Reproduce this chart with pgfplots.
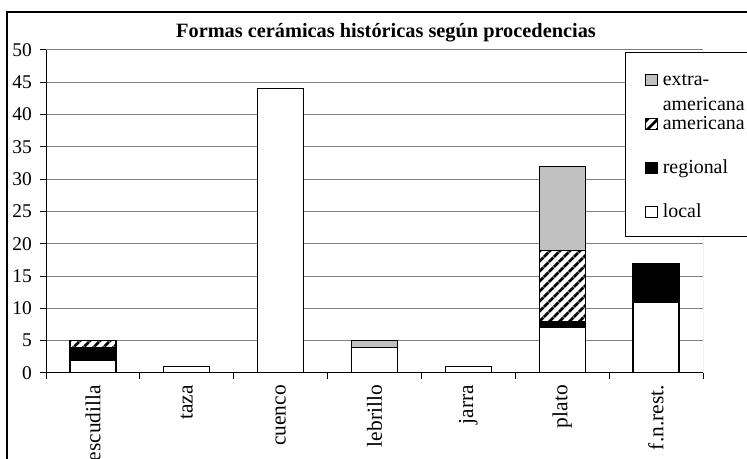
\documentclass[border=0pt]{standalone}
\usepackage{pgfplots}
\pgfplotsset{compat=1.18}
\usepackage{pgfplotstable}
\usepackage{fontspec}
\setmainfont{Liberation Serif}
\usetikzlibrary{patterns.meta}

\definecolor{gridgray}{RGB}{128,128,128}
\definecolor{extragray}{RGB}{192,192,192}

\pgfplotstableread{
x local regional americana extra
0 2 2 1 0
1 1 0 0 0
2 44 0 0 0
3 4 0 0 1
4 1 0 0 0
5 7 1 11 13
6 11 6 0 0
}\datatable

\pgfplotsset{
  sqlegend/.style={legend image code/.code={\draw[##1,line width=1bp,draw=black] (0bp,-7.5bp) rectangle (11.5bp,4bp);}},
}

\begin{document}
\begin{tikzpicture}[x=1bp,y=1bp]
\useasboundingbox (0,0) rectangle (747,459);
\draw[line width=1.3bp] (7,-30) -- (7,447) -- (780,447);
\begin{axis}[
  at={(46bp,86bp)}, anchor=south west,
  scale only axis, width=657bp, height=323bp,
  ybar stacked, bar width=0.49,
  xmin=-0.5, xmax=6.5, ymin=0, ymax=50,
  xtick={0,1,2,3,4,5,6},
  xticklabels={escudilla,taza,cuenco,lebrillo,jarra,plato,f.n.rest.},
  minor xtick={-0.5,0.5,1.5,2.5,3.5,4.5,5.5,6.5},
  ytick={0,5,...,50},
  axis x line*=bottom, axis y line*=left,
  axis line style={line width=1bp, black},
  tick align=outside, major tick length=6bp, minor tick length=6bp,
  major x tick style={draw=none},
  tick style={black, line width=1bp},
  ymajorgrids, major grid style={gridgray, line width=1bp},
  xticklabel style={rotate=90, anchor=east, inner sep=6bp, font=\fontsize{21.5}{24}\selectfont},
  yticklabel style={inner sep=2bp, xshift=-6bp, font=\fontsize{19.5}{22}\selectfont},
  /pgf/number format/assume math mode=true,
  reverse legend,
  legend cell align=left,
  legend style={at={(rel axis cs:0.881,0.994)}, anchor=north west, draw=black, line width=1bp,
    inner xsep=20bp, inner ysep=13bp, row sep=18bp, column sep=5bp,
    nodes={inner sep=0bp, text height=20bp, text depth=6bp},
    font=\fontsize{20}{25}\selectfont},
]
\addplot[draw=black, line width=1.2bp, fill=white, sqlegend] table[x=x, y=local] {\datatable};
\addlegendentry{local}
\addplot[draw=black, line width=1.2bp, fill=black, sqlegend] table[x=x, y=regional] {\datatable};
\addlegendentry{regional}
\addplot[draw=black, line width=1.2bp, fill=white, postaction={pattern={Lines[angle=45,distance=6.8bp,line width=3bp]}, pattern color=black}, sqlegend] table[x=x, y=americana] {\datatable};
\addlegendentry{americana}
\addplot[draw=black, line width=1.2bp, fill=extragray, sqlegend] table[x=x, y=extra] {\datatable};
\addlegendentry{\begin{tabular}[t]{@{}l@{}}extra-\\americana\end{tabular}}
\draw[gridgray, line width=1bp] (rel axis cs:1,0) -- (rel axis cs:1,1);
\end{axis}
\node[font=\fontsize{20.4}{24}\selectfont\bfseries] at (386,426) {Formas cerámicas históricas según procedencias};
\end{tikzpicture}
\end{document}
